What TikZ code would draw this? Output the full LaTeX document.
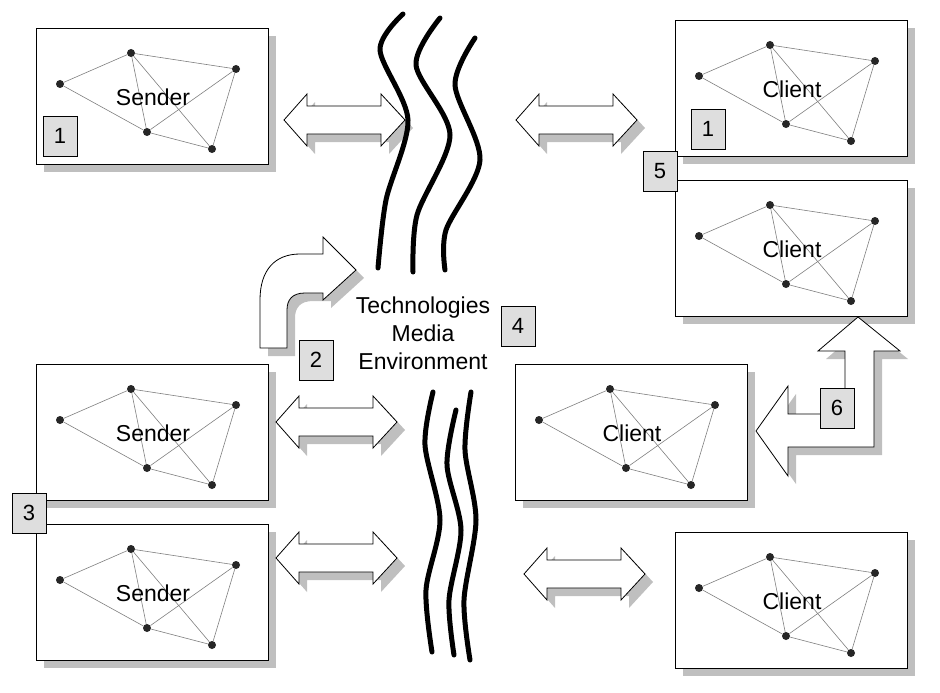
\documentclass[tikz,border=0pt]{standalone}
\usepackage{fontspec}
\setmainfont{Liberation Sans}
\colorlet{shade}{black!25}
\colorlet{numfill}{black!13}
\tikzset{
  frame/.style={draw=black,fill=white,line width=0.8pt},
  shadow/.style={fill=shade,draw=none},
  edge/.style={draw=black!50,line width=0.6pt},
  dot/.style={circle,fill=black!85,inner sep=0pt,minimum size=8pt},
  num/.style={draw=black,fill=numfill,minimum width=34pt,minimum height=40pt,inner sep=0pt,font=\fontsize{22}{24}\selectfont},
  wave/.style={line width=5pt,line cap=round},
  lbl/.style={font=\fontsize{23}{28}\selectfont}
}
% a framed network box: name, top-left x, y, label
\newcommand{\netbox}[4]{
  \fill[shadow] (#2+8,#3+8) rectangle (#2+240,#3+144);
  \draw[frame] (#2,#3) rectangle (#2+232,#3+136);
  \node[dot] (#1a) at (#2+24,#3+56) {};
  \node[dot] (#1b) at (#2+95,#3+25) {};
  \node[dot] (#1c) at (#2+200,#3+41) {};
  \node[dot] (#1d) at (#2+111,#3+104) {};
  \node[dot] (#1e) at (#2+176,#3+121) {};
  \foreach \u/\v in {a/b,a/d,b/c,b/d,b/e,c/d,c/e,d/e}
    \draw[edge] (#1\u) -- (#1\v);
  \node[lbl] (#1t) at (#2+117,#3+69) {#4};
}
% a double arrow: left tip x, middle y
\newcommand{\dblarrow}[2]{
  \foreach \dx/\st in {8/shadow,0/frame}
    \path[\st] (#1+\dx,#2+\dx) -- ++(23,-26) -- ++(0,12) -- ++(74,0) -- ++(0,-12)
      -- ++(24,26) -- ++(-24,26) -- ++(0,-12) -- ++(-74,0) -- ++(0,12) -- cycle;
}
\begin{document}
\begin{tikzpicture}[x=1pt,y=-1pt]
  \useasboundingbox (0,0) rectangle (940,693);
  % senders
  \netbox{sa}{36}{28}{Sender}
  \netbox{sb}{36}{364}{Sender}
  \netbox{sc}{36}{524}{Sender}
  % clients
  \netbox{ca}{675}{20}{Client}
  \netbox{cb}{675}{180}{Client}
  \netbox{cc}{515}{364}{Client}
  \netbox{cd}{675}{532}{Client}
  % double arrows
  \dblarrow{284}{120}
  \dblarrow{516}{120}
  \dblarrow{276}{422}
  \dblarrow{276}{558}
  \dblarrow{524}{574}
  % bent arrow up to the media
  \foreach \dx/\st in {8/shadow,0/frame}
    \path[\st,shift={(\dx,\dx)}] (260,348) -- (260,300) .. controls (260,270) and (275,254) .. (300,254)
      -- (323,254) -- (323,237) -- (356,270) -- (323,300) -- (323,293) -- (305,293)
      .. controls (292,293) and (287,300) .. (287,310) -- (287,348) -- cycle;
  % bent arrow between clients
  \foreach \dx/\st in {8/shadow,0/frame}
    \path[\st,shift={(\dx,\dx)}] (858,317) -- (900,351) -- (874,351) -- (874,447) -- (788,447)
      -- (788,476) -- (756,431) -- (788,386) -- (788,414) -- (845,414) -- (845,351)
      -- (818,351) -- cycle;
  % media waves
  \draw[wave] plot[smooth] coordinates {(403,14) (380,50) (408,120) (386,200) (378,268)};
  \draw[wave] plot[smooth] coordinates {(440,18) (416,65) (450,135) (417,215) (413,272)};
  \draw[wave] plot[smooth] coordinates {(475,38) (455,85) (480,160) (446,230) (445,270)};
  \draw[wave] plot[smooth] coordinates {(433,392) (425,445) (440,520) (426,590) (432,652)};
  \draw[wave] plot[smooth] coordinates {(456,410) (447,465) (461,530) (449,600) (454,655)};
  \draw[wave] plot[smooth] coordinates {(471,392) (465,450) (476,520) (464,600) (470,660)};
  \node[lbl,align=center] (media) at (423,333) {Technologies\\Media\\Environment};
  % numbers
  \node[num] (n1a) at (60,136) {1};
  \node[num] (n1b) at (708,129) {1};
  \node[num] (n5) at (660,171) {5};
  \node[num] (n2) at (316,360) {2};
  \node[num] (n3) at (29,513) {3};
  \node[num] (n4) at (518,326) {4};
  \node[num] (n6) at (837,408) {6};
\end{tikzpicture}
\end{document}
